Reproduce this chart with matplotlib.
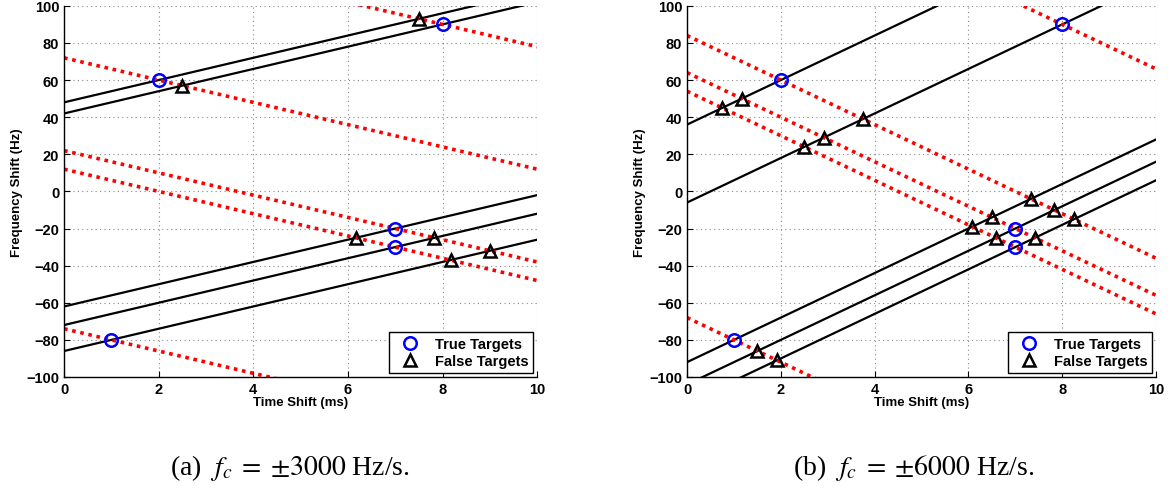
import numpy as np
import matplotlib
matplotlib.use("Agg")
import matplotlib.pyplot as plt
from matplotlib.lines import Line2D

plt.rcParams['font.family'] = ['Liberation Sans', 'DejaVu Sans']
plt.rcParams['mathtext.fontset'] = 'stix'

# ---- data ----
true_x = [1, 2, 7, 7, 8]
true_y = [-80, 60, -20, -30, 90]

# panel (a)
slope_a = 6.0
black_int_a = [-86, 48, -62, -72, 42]
red_int_a = [-74, 72, 22, 12, 138]
false_x_a = [7.5, 2.5, 6.17, 7.83, 8.17, 9.0]
false_y_a = [93, 57, -25, -25, -37, -32]

# panel (b)
slope_b = 12.0
black_int_b = [-92, 36, -104, -114, -6]
red_int_b = [-68, 84, 64, 54, 186]
false_x_b = [0.75, 1.17, 2.5, 2.92, 3.75, 1.5, 1.92, 6.08, 6.5, 6.58, 7.33, 7.42, 7.83, 8.25]
false_y_b = [45, 50, 24, 29, 39, -86, -91, -19, -14, -25, -4, -25, -10, -15]

captions = [r"(a)  $f_c\;=\;{\pm}3000$ Hz/s.", r"(b)  $f_c\;=\;{\pm}6000$ Hz/s."]

fig = plt.figure(figsize=(11.71, 4.89), dpi=100)
ax_a = fig.add_axes([0.0547, 0.227, 0.404, 0.759])
ax_b = fig.add_axes([0.5867, 0.227, 0.4005, 0.759])

xs = np.linspace(0, 10, 200)

def draw(ax, slope, bints, rints, fx, fy):
    for b in bints:
        ax.plot(xs, b + slope * xs, color='black', lw=1.6, zorder=2)
    for r in rints:
        ax.plot(xs, r - slope * xs, color='red', lw=2.6, ls=(0, (1, 1.3)), zorder=2)
    ax.plot(true_x, true_y, 'o', ms=9, mfc='none', mec='blue', mew=1.8, zorder=4)
    ax.plot(fx, fy, '^', ms=9, mfc='none', mec='black', mew=1.8, zorder=4)
    ax.set_xlim(0, 10)
    ax.set_ylim(-100, 100)
    ax.set_xticks([0, 2, 4, 6, 8, 10])
    ax.set_yticks(range(-100, 101, 20))
    ax.grid(True, ls=(0, (1, 3)), color='#888888', lw=0.8)
    for s in ['top', 'right']:
        ax.spines[s].set_visible(False)
    for s in ['left', 'bottom']:
        ax.spines[s].set_linewidth(1.0)
    ax.tick_params(direction='in', labelsize=10.5, length=4)
    for lab in ax.get_xticklabels() + ax.get_yticklabels():
        lab.set_fontweight('bold')
    ax.set_xlabel('Time Shift (ms)', fontsize=9.5, fontweight='bold', labelpad=0)
    ax.set_ylabel('Frequency Shift (Hz)', fontsize=9.5, fontweight='bold', labelpad=2)
    handles = [Line2D([], [], marker='o', ls='none', ms=9, mfc='none', mec='blue', mew=1.8),
               Line2D([], [], marker='^', ls='none', ms=9, mfc='none', mec='black', mew=1.8)]
    leg = ax.legend(handles, ['True Targets', 'False Targets'], loc='lower right',
                    prop={'weight': 'bold', 'size': 10.5}, fancybox=False, edgecolor='black',
                    framealpha=1, borderpad=0.35, handletextpad=0.6, labelspacing=0.2,
                    handlelength=2.2, borderaxespad=0.25)
    leg.get_frame().set_linewidth(1.0)

draw(ax_a, slope_a, black_int_a, red_int_a, false_x_a, false_y_a)
draw(ax_b, slope_b, black_int_b, red_int_b, false_x_b, false_y_b)

fig.text(0.2477, 0.043, captions[0], ha='center', va='center', fontsize=20, family='Liberation Serif')
fig.text(0.780, 0.043, captions[1], ha='center', va='center', fontsize=20, family='Liberation Serif')

fig.savefig('out.png', dpi=100)
